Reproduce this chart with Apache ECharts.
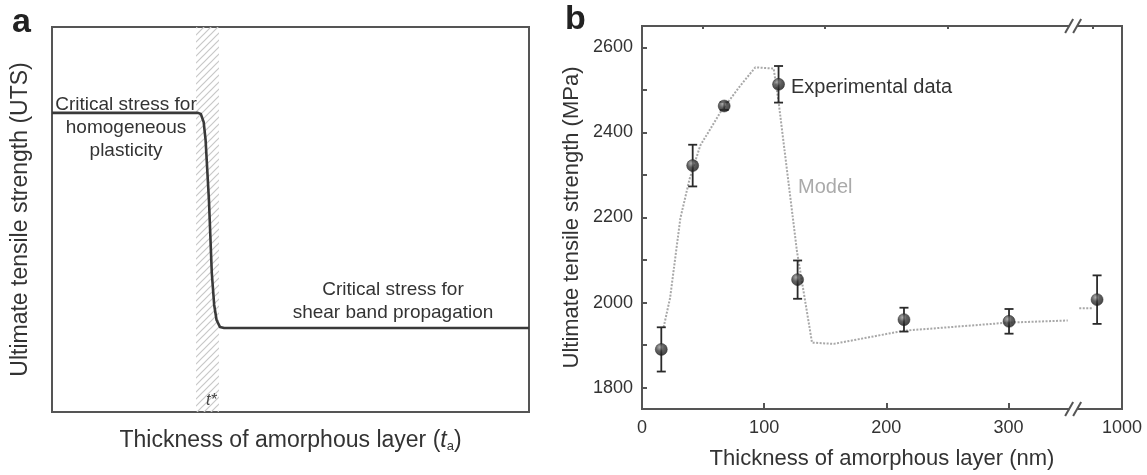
<!DOCTYPE html>
<html>
<head>
<meta charset="utf-8">
<script src="https://cdn.jsdelivr.net/npm/echarts@6/dist/echarts.min.js"></script>
<style>
html,body{margin:0;padding:0;background:#fff;}
#c{width:1147px;height:475px;}
</style>
</head>
<body>
<div id="c"></div>
<script>
// ---------- Panel a: schematic UTS vs thickness ----------
var schemX = [0, 30.6, 31.2, 31.8, 32.2, 32.9, 33.5, 34.0, 34.5, 35.2, 36.1, 100];
var schemY = [77.7, 77.7, 77.4, 75.3, 70.6, 55.1, 36.1, 27.8, 23.9, 22.1, 21.8, 21.8];
var hatchRange = [30.2, 35.0];

// ---------- Panel b: experimental data and model ----------
var expX   = [15.8, 41.5, 67.3, 111.8, 127.4, 214.5, 300.5, 372.6];
var expY   = [1890, 2322, 2462, 2513, 2054, 1960, 1956, 2007];
var expErr = [52, 49, 9, 43, 45, 28, 29, 57];

var modelX  = [17.7, 23.0, 31.4, 39.0, 47.7, 64.1, 80.3, 92.8, 107.8, 111.9, 126.9, 139.2, 156.9, 214.5, 300.0, 348.6];
var modelY  = [1942, 2011, 2198, 2291, 2369, 2447, 2509, 2553, 2550, 2470, 2120, 1906, 1903, 1934, 1953, 1958];
var model2X = [358, 369.5];
var model2Y = [1987, 1987];

var yTickVals  = [1800, 1900, 2000, 2100, 2200, 2300, 2400, 2500, 2600];
var yLabelVals = [1800, 2000, 2200, 2400, 2600];
var xMajorTicks = [100, 200, 300];
var xMinorTicks = [50, 150, 250, 369];
var xLabelVals  = [0, 100, 200, 300, 393];
var xLabelText  = ['0', '100', '200', '300', '1000'];
var xBreakAt = 353;

var FONT = '"Liberation Sans", Arial, Helvetica, sans-serif';
var TXT = '#333';
var AX = '#555';

function zip(a, b) { return a.map(function (v, i) { return [v, b[i]]; }); }

// hatch pattern
var pat = document.createElement('canvas');
pat.width = 7; pat.height = 7;
var pc = pat.getContext('2d');
pc.strokeStyle = '#c8c8c8';
pc.lineWidth = 1.2;
pc.beginPath();
pc.moveTo(0, 7); pc.lineTo(7, 0);
pc.moveTo(-1, 1); pc.lineTo(1, -1);
pc.moveTo(6, 8); pc.lineTo(8, 6);
pc.stroke();

var chart = echarts.init(document.getElementById('c'), null, {renderer: 'canvas'});

var sphere = {
  type: 'radial', x: 0.38, y: 0.32, r: 0.7,
  colorStops: [{offset: 0, color: '#9a9a9a'}, {offset: 0.45, color: '#3a3a3a'}, {offset: 1, color: '#151515'}]
};

var option = {
  backgroundColor: '#fff',
  animation: false,
  textStyle: {fontFamily: FONT},
  grid: [
    {left: 52, top: 27, width: 477, height: 385, show: true, borderColor: AX, borderWidth: 2, backgroundColor: 'transparent'},
    {left: 642, top: 26, width: 480, height: 385, show: true, borderColor: AX, borderWidth: 2, backgroundColor: 'transparent'}
  ],
  xAxis: [
    {
      gridIndex: 0, type: 'value', min: 0, max: 100,
      axisLine: {show: false}, axisTick: {show: false}, axisLabel: {show: false}, splitLine: {show: false},
      name: 'Thickness of amorphous layer ({i|t}{sub|a})',
      nameLocation: 'middle', nameGap: 16,
      nameTextStyle: {
        fontSize: 23, color: TXT, fontFamily: FONT,
        rich: {
          i: {fontSize: 23, fontStyle: 'italic', color: TXT, fontFamily: FONT},
          sub: {fontSize: 13, color: TXT, fontFamily: FONT, padding: [12, 0, 0, 0]}
        }
      }
    },
    {
      gridIndex: 1, type: 'value', min: 0, max: 393,
      axisLine: {show: true, lineStyle: {color: AX, width: 2}},
      axisTick: {show: true, inside: true, length: 6, customValues: xMajorTicks, lineStyle: {color: AX, width: 2}},
      axisLabel: {
        customValues: xLabelVals, fontSize: 18, color: TXT, margin: 10, fontFamily: FONT,
        formatter: function (v) {
          for (var i = 0; i < xLabelVals.length; i++) if (Math.abs(xLabelVals[i] - v) < 0.5) return xLabelText[i];
          return '';
        }
      },
      splitLine: {show: false},
      name: 'Thickness of amorphous layer (nm)',
      nameLocation: 'middle', nameGap: 39,
      nameTextStyle: {fontSize: 22, color: TXT, fontFamily: FONT}
    },
    {
      gridIndex: 1, type: 'value', min: 0, max: 393,
      axisLine: {show: false},
      axisTick: {show: true, inside: true, length: 3, customValues: xMinorTicks, lineStyle: {color: AX, width: 2}},
      axisLabel: {show: false}, splitLine: {show: false}
    }
  ],
  yAxis: [
    {
      gridIndex: 0, type: 'value', min: 0, max: 100,
      axisLine: {show: false}, axisTick: {show: false}, axisLabel: {show: false}, splitLine: {show: false},
      name: 'Ultimate tensile strength (UTS)',
      nameLocation: 'middle', nameGap: 20,
      nameTextStyle: {fontSize: 23, color: TXT, fontFamily: FONT}
    },
    {
      gridIndex: 1, type: 'value', min: 1750, max: 2650,
      axisLine: {show: true, lineStyle: {color: AX, width: 2}},
      axisTick: {show: true, inside: true, length: 5, customValues: yTickVals, lineStyle: {color: AX, width: 2}},
      axisLabel: {customValues: yLabelVals, fontSize: 18, color: TXT, margin: 9, fontFamily: FONT,
        formatter: function (v) { return String(Math.round(v)); }},
      splitLine: {show: false},
      name: 'Ultimate tensile strength (MPa)',
      nameLocation: 'middle', nameGap: 59,
      nameTextStyle: {fontSize: 22, color: TXT, fontFamily: FONT}
    }
  ],
  series: [
    {
      type: 'line', xAxisIndex: 0, yAxisIndex: 0,
      data: zip(schemX, schemY), showSymbol: false, symbol: 'none',
      lineStyle: {color: '#3a3a3a', width: 2.6, join: 'round'},
      markArea: {
        silent: true,
        itemStyle: {color: {image: pat, repeat: 'repeat'}},
        data: [[{xAxis: hatchRange[0]}, {xAxis: hatchRange[1]}]]
      },
      z: 3
    },
    {
      type: 'line', xAxisIndex: 1, yAxisIndex: 1,
      data: zip(modelX, modelY), showSymbol: false, symbol: 'none',
      lineStyle: {color: '#a8a8a8', width: 2, type: [2, 1.5]}, z: 2
    },
    {
      type: 'line', xAxisIndex: 1, yAxisIndex: 1,
      data: zip(model2X, model2Y), showSymbol: false, symbol: 'none',
      lineStyle: {color: '#a8a8a8', width: 2, type: [2, 1.5]}, z: 2
    },
    {
      type: 'custom', xAxisIndex: 1, yAxisIndex: 1,
      data: expX.map(function (x, i) { return [x, expY[i] - expErr[i], expY[i] + expErr[i]]; }),
      renderItem: function (params, api) {
        var lo = api.coord([api.value(0), api.value(1)]);
        var hi = api.coord([api.value(0), api.value(2)]);
        var w = 4.5;
        var st = {stroke: '#2a2a2a', lineWidth: 1.8};
        return {
          type: 'group',
          children: [
            {type: 'line', shape: {x1: lo[0], y1: lo[1], x2: hi[0], y2: hi[1]}, style: st},
            {type: 'line', shape: {x1: lo[0] - w, y1: lo[1], x2: lo[0] + w, y2: lo[1]}, style: st},
            {type: 'line', shape: {x1: hi[0] - w, y1: hi[1], x2: hi[0] + w, y2: hi[1]}, style: st}
          ]
        };
      },
      z: 4
    },
    {
      type: 'scatter', xAxisIndex: 1, yAxisIndex: 1,
      data: zip(expX, expY), symbol: 'circle', symbolSize: 12,
      itemStyle: {color: sphere, borderColor: '#222', borderWidth: 0.6}, z: 5
    }
  ],
  graphic: [
    {type: 'text', left: 12, top: 6, style: {text: 'a', font: 'bold 34px ' + FONT, fill: '#222'}},
    {type: 'text', left: 565, top: 3, style: {text: 'b', font: 'bold 34px ' + FONT, fill: '#222'}},
    {type: 'text', x: 126, y: 128, style: {text: 'Critical stress for\nhomogeneous\nplasticity', font: '19px ' + FONT, fill: TXT, align: 'center', verticalAlign: 'middle', lineHeight: 23}, z: 10},
    {type: 'text', x: 393, y: 301, style: {text: 'Critical stress for\nshear band propagation', font: '19px ' + FONT, fill: TXT, align: 'center', verticalAlign: 'middle', lineHeight: 23}, z: 10},
    {type: 'text', x: 791, y: 87, style: {text: 'Experimental data', font: '20px ' + FONT, fill: TXT, align: 'left', verticalAlign: 'middle'}, z: 10},
    {type: 'text', x: 798, y: 187, style: {text: 'Model', font: '20px ' + FONT, fill: '#aaaaaa', align: 'left', verticalAlign: 'middle'}, z: 10},
    {type: 'text', x: 206, y: 401, style: {text: 't*', font: 'italic 16px ' + FONT, fill: '#444', align: 'left', verticalAlign: 'middle'}, z: 10}
  ]
};

chart.setOption(option);

// axis break marks "//" on top and bottom of panel b
function breakMarks() {
  var xb = chart.convertToPixel({xAxisIndex: 1}, xBreakAt);
  var yTop = chart.convertToPixel({yAxisIndex: 1}, 2650);
  var yBot = chart.convertToPixel({yAxisIndex: 1}, 1750);
  var els = [];
  [yTop, yBot].forEach(function (yy) {
    els.push({type: 'rect', shape: {x: xb - 4, y: yy - 3, width: 8, height: 6}, style: {fill: '#fff'}, z: 20});
    [-4, 4].forEach(function (o) {
      els.push({type: 'line', shape: {x1: xb + o - 4, y1: yy + 7, x2: xb + o + 4, y2: yy - 7}, style: {stroke: AX, lineWidth: 2}, z: 21});
    });
  });
  var g = option.graphic.slice();
  chart.setOption({graphic: g.concat(els)});
}
breakMarks();
</script>
</body>
</html>
